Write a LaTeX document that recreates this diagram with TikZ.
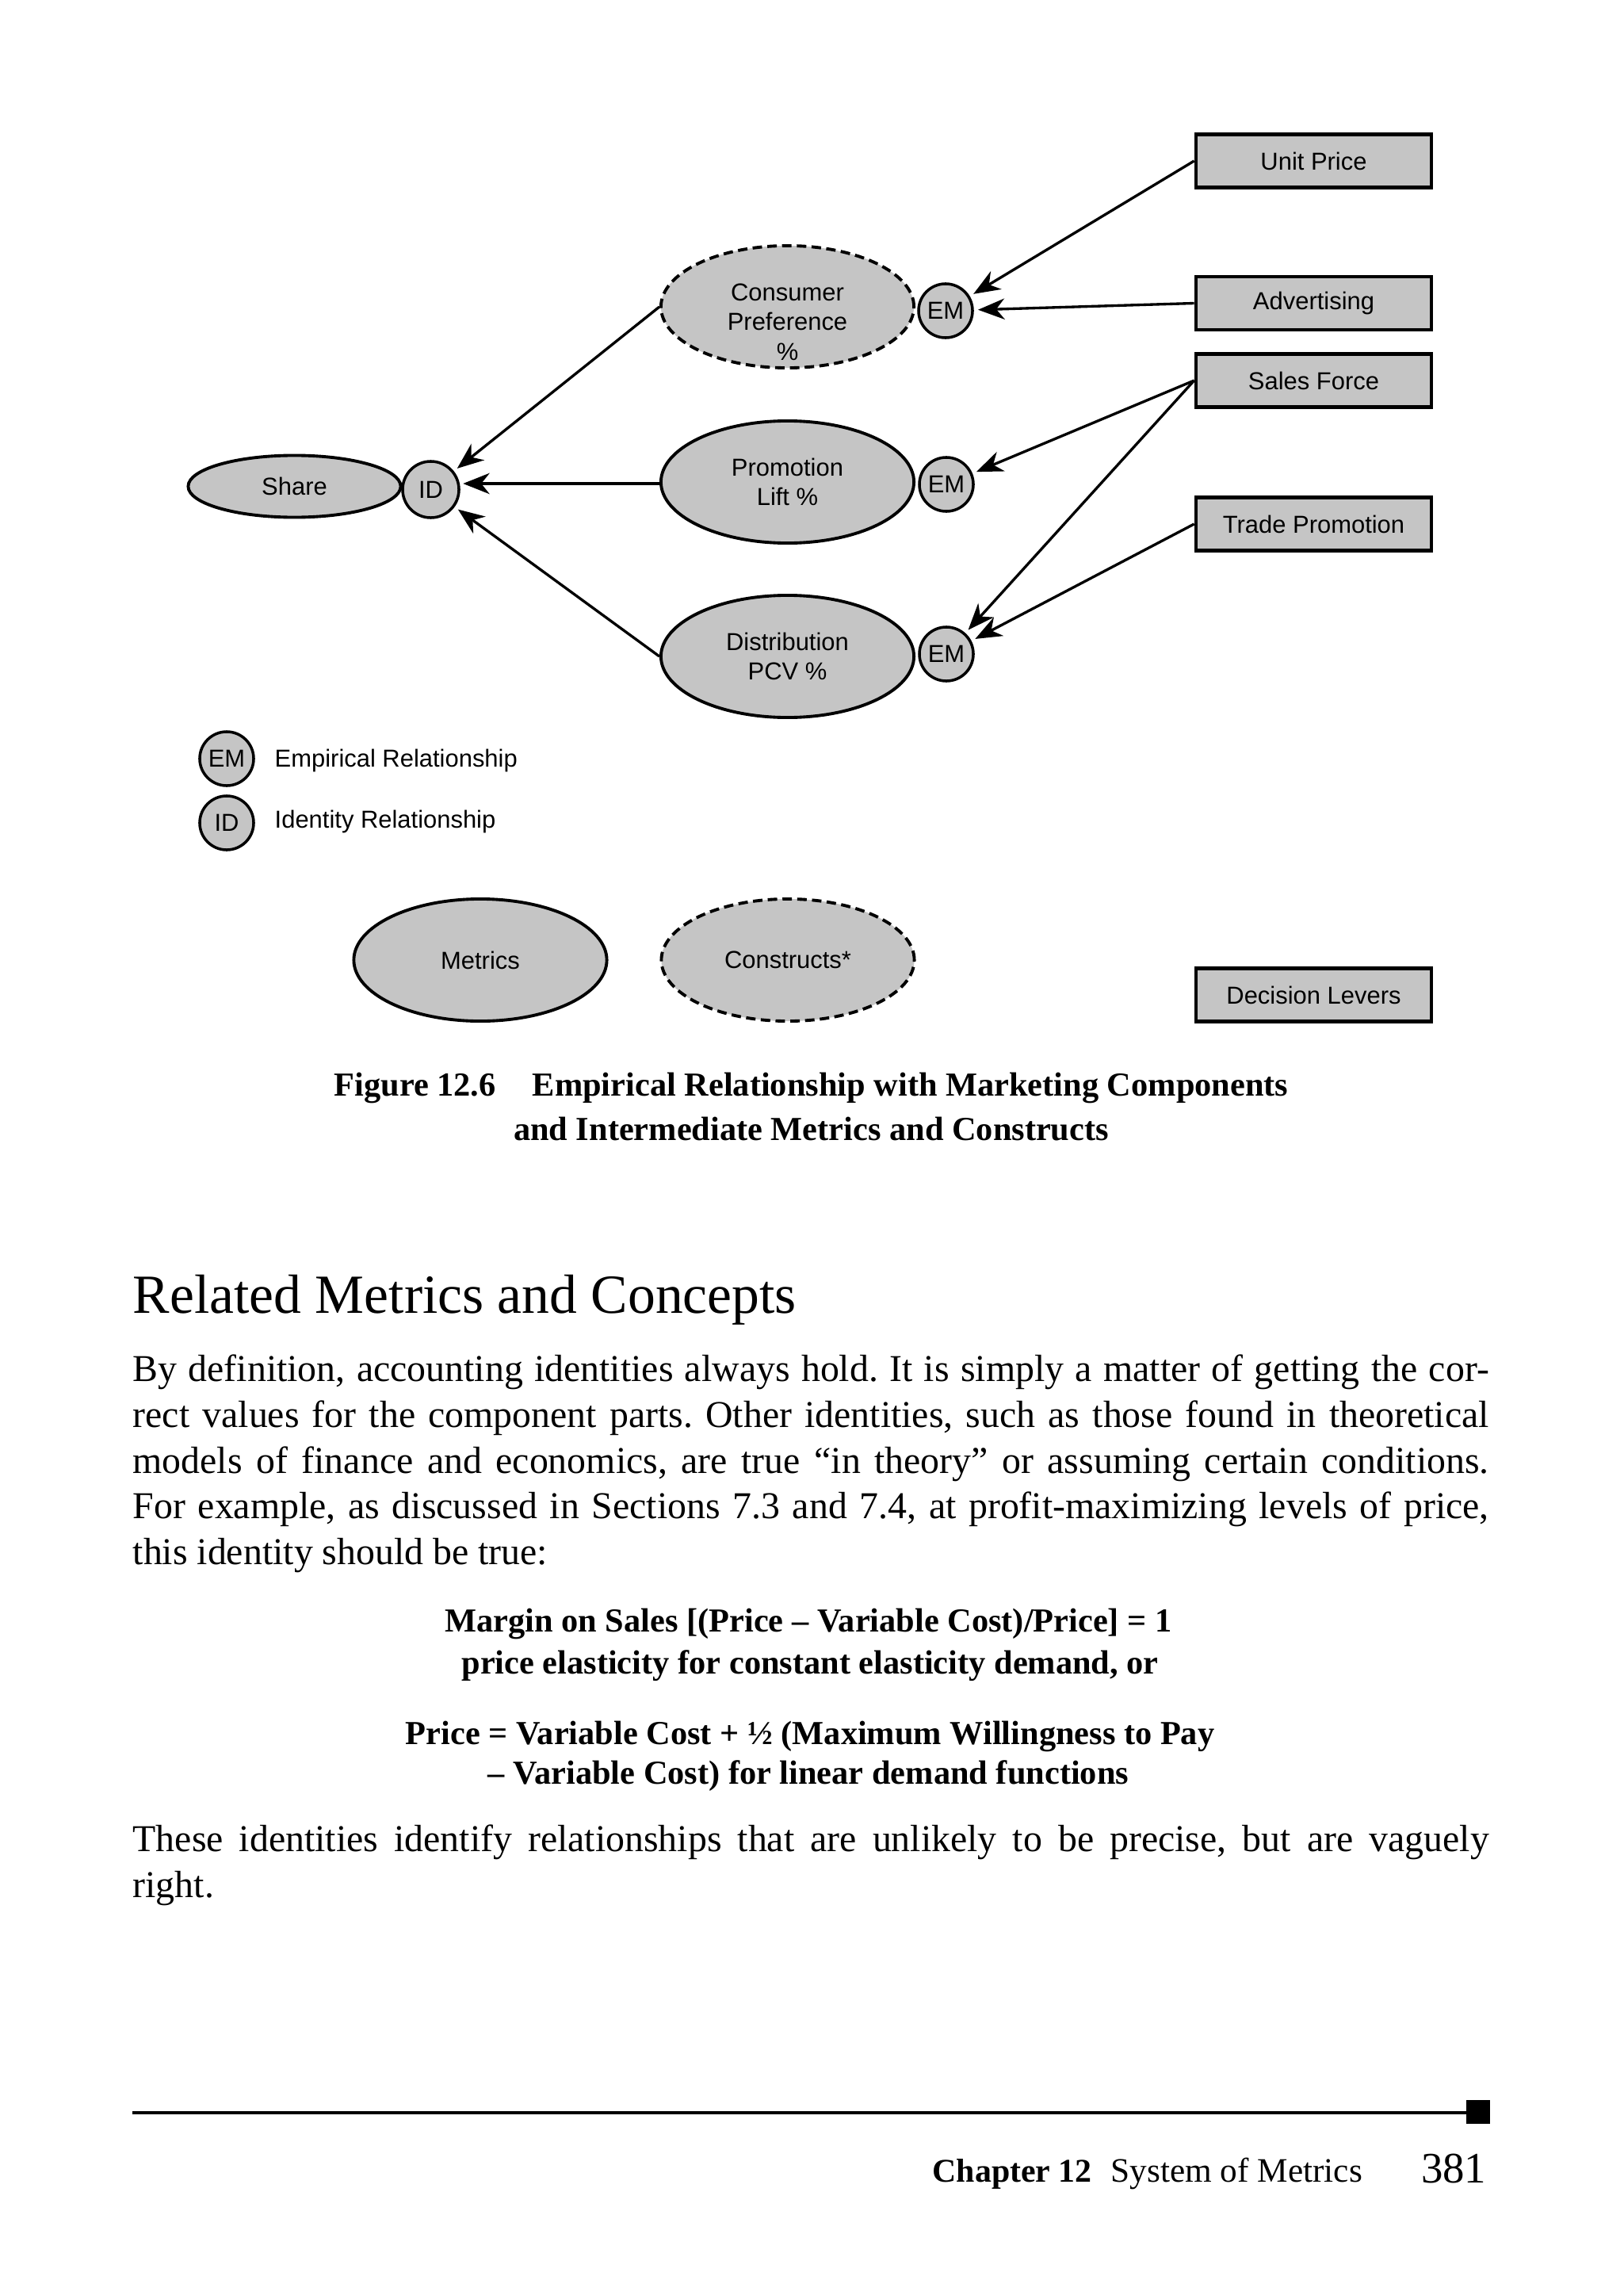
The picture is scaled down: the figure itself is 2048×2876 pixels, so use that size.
\documentclass[tikz,border=0pt]{standalone}
\usepackage{fontspec}
\setmainfont{Liberation Serif}
\newfontfamily\diagfont{Liberation Sans}
\usetikzlibrary{shapes.geometric,arrows.meta}
\definecolor{fillg}{RGB}{197,197,197}
\frenchspacing
\newcommand\dfont{\diagfont\fontsize{8.8}{10.7}\selectfont}
\newcommand\bodyf{\fontsize{13.6}{16.4}\selectfont}
\newcommand\eqf{\fontsize{12.05}{14}\selectfont\bfseries}
\begin{document}
\begin{tikzpicture}[x=0.01cm,y=-0.01cm,
  lever/.style={draw, line width=1.3pt, fill=fillg, minimum width=2.97cm, minimum height=0.67cm, inner sep=0pt, font=\dfont},
  metric/.style={ellipse, draw, line width=1.1pt, fill=fillg, minimum width=3.19cm, minimum height=1.54cm, inner sep=0pt, align=center, font=\dfont},
  construct/.style={metric, dash pattern=on 3.4pt off 1.9pt},
  rel/.style={circle, draw, line width=1.0pt, fill=fillg, minimum size=0.68cm, inner sep=0pt, font=\dfont},
  arr/.style={-{Stealth[length=9.5pt,width=7.5pt,inset=3pt]}, line width=0.95pt, shorten >=1.5pt},
  dtext/.style={inner sep=0pt, font=\dfont, align=center},
  bodyline/.style={inner sep=0pt, anchor=base west, font=\bodyf},
  eqline/.style={inner sep=0pt, anchor=base, font=\eqf},
]
\fill[white] (0,0) rectangle (2048,2876);
\useasboundingbox (0,0) rectangle (2048,2876);

% decision levers
\node[lever] (up) at (1657.5,203) {Unit Price};
\node[lever] (adv) at (1657.5,382.5) {Advertising};
\node[lever] (sf) at (1657.5,480) {Sales Force};
\node[lever] (tp) at (1657.5,661) {Trade Promotion};
\node[lever] (dl) at (1657.5,1255) {Decision Levers};

% metrics / constructs
\node[construct] (cp) at (993.5,387) {};
\node[dtext] (cptext) at (993.5,406) {Consumer\\Preference\\\%};
\node[metric] (pl) at (993.5,608) {Promotion\\Lift \%};
\node[metric] (dist) at (993.5,828) {Distribution\\PCV \%};

\node[rel] (em1) at (1193,392) {EM};
\node[rel] (em2) at (1194,611) {EM};
\node[rel] (em3) at (1194,825) {EM};

\node[metric, minimum width=2.68cm, minimum height=0.78cm] (share) at (371.5,613.5) {Share};
\node[rel, minimum size=0.71cm] (id) at (543.5,617.5) {ID};
\coordinate (idin) at (579,610);

% arrows
\draw[arr] (up.west) -- (em1);
\draw[arr] (adv.west) -- (em1);
\draw[arr] (sf.west) -- (em2);
\draw[arr] (sf.west) -- (em3);
\draw[arr] (tp.west) -- (em3);
\draw[arr] (cp.west) -- (id);
\draw[arr] (pl.west |- idin) -- (idin);
\draw[arr] (dist.west) -- (id);

% legend
\node[rel] (lem) at (286,957) {EM};
\node[rel] (lid) at (286,1038) {ID};
\node[dtext, anchor=west] (lemt) at (346,959) {Empirical Relationship};
\node[dtext, anchor=west] (lidt) at (346,1036) {Identity Relationship};
\node[metric] (metrics) at (606,1211) {Metrics};
\node[construct] (constructs) at (994,1211) {Constructs*};

% caption
\node[eqline] (cap1) at (1023.5,1382) {Figure 12.6\hspace{0.46cm}Empirical Relationship with Marketing Components};
\node[eqline] (cap2) at (1023.5,1438) {and Intermediate Metrics and Constructs};

% heading and body
\node[inner sep=0pt, anchor=base west, font=\fontsize{19.8}{24}\selectfont] (head) at (167,1656) {Related Metrics and Concepts};
\node[bodyline] (b1) at (167,1742.7) {\makebox[17.1cm][s]{By definition, accounting identities always hold. It is simply a matter of getting the cor-}};
\node[bodyline] (b2) at (167,1800.4) {\makebox[17.1cm][s]{rect values for the component parts. Other identities, such as those found in theoretical}};
\node[bodyline] (b3) at (167,1858) {\makebox[17.1cm][s]{models of finance and economics, are true “in theory” or assuming certain conditions.}};
\node[bodyline] (b4) at (167,1915.7) {\makebox[17.1cm][s]{For example, as discussed in Sections 7.3 and 7.4, at profit-maximizing levels of price,}};
\node[bodyline] (b5) at (167,1973.4) {this identity should be true:};

\node[eqline] (e1) at (1020,2058.5) {Margin on Sales [(Price – Variable Cost)/Price] = 1};
\node[eqline] (e2) at (1022,2111.7) {price elasticity for constant elasticity demand, or};
\node[eqline] (e3) at (1022,2200) {Price = Variable Cost + ½ (Maximum Willingness to Pay};
\node[eqline] (e4) at (1020,2250) {– Variable Cost) for linear demand functions};

\node[bodyline] (b6) at (167,2335) {\makebox[17.1cm][s]{These identities identify relationships that are unlikely to be precise, but are vaguely}};
\node[bodyline] (b7) at (167,2393) {right.};

% footer
\draw[line width=1.14pt] (167,2665) -- (1852,2665);
\fill (1850,2649) rectangle (1880,2679);
\node[inner sep=0pt, anchor=base west, font=\fontsize{11.9}{14}\selectfont\bfseries] (chap) at (1176,2752) {Chapter 12};
\node[inner sep=0pt, anchor=base west, font=\fontsize{12.3}{14}\selectfont] (sys) at (1401,2752) {System of Metrics};
\node[inner sep=0pt, anchor=base east, font=\fontsize{15.6}{18}\selectfont] (pg) at (1876,2753) {381};
\end{tikzpicture}
\end{document}
